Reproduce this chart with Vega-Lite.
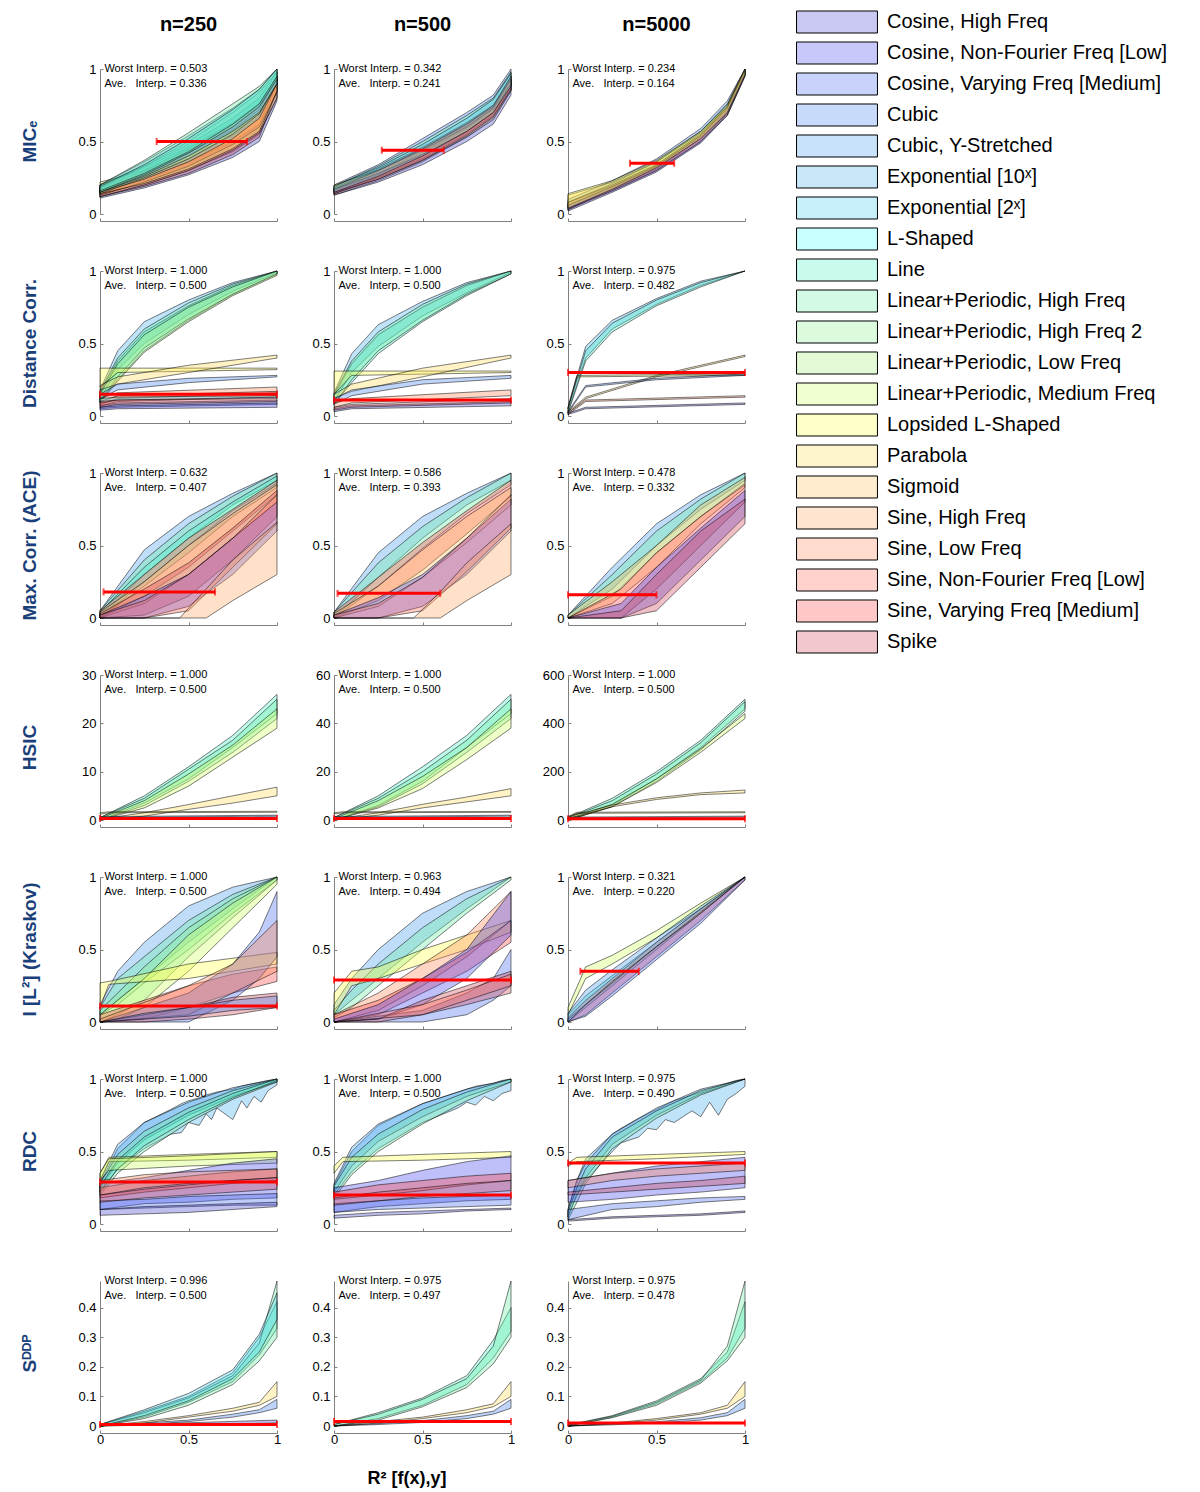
{
"$schema":"https://vega.github.io/schema/vega-lite/v6.json",
"padding":{"left":20,"top":12,"right":5,"bottom":0},
"datasets":{"fns":[{"f":0,"name":"Cosine, High Freq"},{"f":1,"name":"Cosine, Non-Fourier Freq [Low]"},{"f":2,"name":"Cosine, Varying Freq [Medium]"},{"f":3,"name":"Cubic"},{"f":4,"name":"Cubic, Y-Stretched"},{"f":5,"name":"Exponential [10ˣ]"},{"f":6,"name":"Exponential [2ˣ]"},{"f":7,"name":"L-Shaped"},{"f":8,"name":"Line"},{"f":9,"name":"Linear+Periodic, High Freq"},{"f":10,"name":"Linear+Periodic, High Freq 2"},{"f":11,"name":"Linear+Periodic, Low Freq"},{"f":12,"name":"Linear+Periodic, Medium Freq"},{"f":13,"name":"Lopsided L-Shaped"},{"f":14,"name":"Parabola"},{"f":15,"name":"Sigmoid"},{"f":16,"name":"Sine, High Freq"},{"f":17,"name":"Sine, Low Freq"},{"f":18,"name":"Sine, Non-Fourier Freq [Low]"},{"f":19,"name":"Sine, Varying Freq [Medium]"},{"f":20,"name":"Spike"}]},
"data":{"values":[
{"m":0,"c":0,"f":17,"x":[0,0.25,0.5,0.75,0.9,1],"lo":[0.12,0.2,0.3,0.43,0.55,0.8],"hi":[0.17,0.28,0.4,0.56,0.7,0.9]},
{"m":0,"c":0,"f":0,"x":[0,0.25,0.5,0.75,0.9,1],"lo":[0.11,0.18,0.27,0.39,0.5,0.78],"hi":[0.16,0.25,0.36,0.5,0.62,0.9]},
{"m":0,"c":0,"f":20,"x":[0,0.25,0.5,0.75,0.9,1],"lo":[0.12,0.19,0.28,0.41,0.53,0.85],"hi":[0.16,0.26,0.38,0.54,0.67,0.95]},
{"m":0,"c":0,"f":15,"x":[0,0.25,0.5,0.75,0.9,1],"lo":[0.12,0.2,0.3,0.44,0.56,0.8],"hi":[0.2,0.32,0.46,0.63,0.76,0.95]},
{"m":0,"c":0,"f":19,"x":[0,0.25,0.5,0.75,0.9,1],"lo":[0.13,0.22,0.33,0.48,0.6,0.84],"hi":[0.18,0.3,0.45,0.62,0.75,0.93]},
{"m":0,"c":0,"f":14,"x":[0,0.25,0.5,0.75,0.9,1],"lo":[0.14,0.21,0.31,0.45,0.57,0.85],"hi":[0.22,0.3,0.42,0.58,0.72,0.95]},
{"m":0,"c":0,"f":6,"x":[0,0.25,0.5,0.75,0.9,1],"lo":[0.15,0.24,0.36,0.52,0.66,0.9],"hi":[0.2,0.33,0.48,0.66,0.8,0.98]},
{"m":0,"c":0,"f":10,"x":[0,0.25,0.5,0.75,0.9,1],"lo":[0.14,0.25,0.38,0.55,0.69,0.9],"hi":[0.18,0.33,0.5,0.7,0.84,0.98]},
{"m":0,"c":0,"f":4,"x":[0,0.25,0.5,0.75,0.9,1],"lo":[0.15,0.26,0.4,0.57,0.7,0.9],"hi":[0.2,0.36,0.54,0.73,0.86,1]},
{"m":0,"c":0,"f":9,"x":[0,0.25,0.5,0.75,0.9,1],"lo":[0.15,0.27,0.42,0.6,0.74,0.93],"hi":[0.2,0.37,0.56,0.76,0.88,1]},
{"m":0,"c":0,"f":8,"x":[0,0.25,0.5,0.75,0.9,1],"lo":[0.16,0.28,0.43,0.62,0.76,0.95],"hi":[0.19,0.34,0.52,0.72,0.86,1]},
{"m":0,"c":0,"a":0.32,"b":0.83,"y":0.5},
{"m":0,"c":0,"t":"Worst Interp. = 0.503\nAve.\u00a0\u00a0\u00a0Interp. = 0.336","top":1},
{"m":0,"c":1,"f":3,"x":[0,0.25,0.5,0.75,0.9,1],"lo":[0.16,0.28,0.43,0.6,0.72,0.88],"hi":[0.2,0.34,0.52,0.7,0.82,1]},
{"m":0,"c":1,"f":9,"x":[0,0.25,0.5,0.75,0.9,1],"lo":[0.15,0.27,0.42,0.59,0.72,0.9],"hi":[0.19,0.33,0.5,0.68,0.8,0.98]},
{"m":0,"c":1,"f":15,"x":[0,0.25,0.5,0.75,0.9,1],"lo":[0.13,0.23,0.36,0.53,0.66,0.85],"hi":[0.18,0.3,0.45,0.62,0.75,0.95]},
{"m":0,"c":1,"f":19,"x":[0,0.25,0.5,0.75,0.9,1],"lo":[0.14,0.25,0.38,0.55,0.68,0.86],"hi":[0.18,0.31,0.46,0.63,0.75,0.93]},
{"m":0,"c":1,"f":14,"x":[0,0.25,0.5,0.75,0.9,1],"lo":[0.15,0.24,0.37,0.53,0.65,0.85],"hi":[0.2,0.3,0.44,0.6,0.73,0.93]},
{"m":0,"c":1,"f":0,"x":[0,0.25,0.5,0.75,0.9,1],"lo":[0.13,0.22,0.34,0.5,0.62,0.82],"hi":[0.17,0.28,0.41,0.57,0.7,0.9]},
{"m":0,"c":1,"f":20,"x":[0,0.25,0.5,0.75,0.9,1],"lo":[0.14,0.24,0.37,0.54,0.67,0.86],"hi":[0.17,0.3,0.45,0.62,0.74,0.95]},
{"m":0,"c":1,"f":6,"x":[0,0.25,0.5,0.75,0.9,1],"lo":[0.15,0.26,0.4,0.57,0.7,0.88],"hi":[0.19,0.32,0.48,0.66,0.79,0.97]},
{"m":0,"c":1,"a":0.27,"b":0.62,"y":0.44},
{"m":0,"c":1,"t":"Worst Interp. = 0.342\nAve.\u00a0\u00a0\u00a0Interp. = 0.241","top":1},
{"m":0,"c":2,"f":3,"x":[0,0.25,0.5,0.75,0.9,1],"lo":[0.03,0.18,0.33,0.53,0.72,0.97],"hi":[0.1,0.23,0.38,0.59,0.78,1]},
{"m":0,"c":2,"f":9,"x":[0,0.25,0.5,0.75,0.9,1],"lo":[0.03,0.17,0.31,0.52,0.7,0.96],"hi":[0.08,0.21,0.36,0.57,0.76,1]},
{"m":0,"c":2,"f":15,"x":[0,0.25,0.5,0.75,0.9,1],"lo":[0.04,0.16,0.3,0.5,0.68,0.95],"hi":[0.13,0.22,0.36,0.56,0.74,0.99]},
{"m":0,"c":2,"f":19,"x":[0,0.25,0.5,0.75,0.9,1],"lo":[0.03,0.16,0.3,0.5,0.69,0.96],"hi":[0.08,0.2,0.34,0.55,0.74,1]},
{"m":0,"c":2,"f":0,"x":[0,0.25,0.5,0.75,0.9,1],"lo":[0.02,0.15,0.29,0.49,0.68,0.95],"hi":[0.06,0.19,0.33,0.54,0.73,0.99]},
{"m":0,"c":2,"f":13,"x":[0,0.25,0.5,0.75,0.9,1],"lo":[0.04,0.17,0.32,0.52,0.7,0.96],"hi":[0.14,0.23,0.37,0.57,0.75,1]},
{"m":0,"c":2,"a":0.35,"b":0.6,"y":0.35},
{"m":0,"c":2,"t":"Worst Interp. = 0.234\nAve.\u00a0\u00a0\u00a0Interp. = 0.164","top":1},
{"m":1,"c":0,"f":5,"x":[0,0.1,0.25,0.5,0.75,1],"lo":[0.12,0.32,0.5,0.7,0.86,0.99],"hi":[0.18,0.45,0.65,0.8,0.92,1]},
{"m":1,"c":0,"f":8,"x":[0,0.1,0.25,0.5,0.75,1],"lo":[0.1,0.25,0.45,0.66,0.84,0.98],"hi":[0.16,0.38,0.58,0.76,0.9,1]},
{"m":1,"c":0,"f":9,"x":[0,0.1,0.25,0.5,0.75,1],"lo":[0.1,0.27,0.47,0.67,0.84,0.98],"hi":[0.17,0.4,0.6,0.78,0.91,1]},
{"m":1,"c":0,"f":11,"x":[0,0.1,0.25,0.5,0.75,1],"lo":[0.09,0.24,0.44,0.65,0.83,0.97],"hi":[0.15,0.36,0.56,0.75,0.89,1]},
{"m":1,"c":0,"f":13,"x":[0,0.1,1],"lo":[0.2,0.3,0.32],"hi":[0.33,0.33,0.33]},
{"m":1,"c":0,"f":14,"x":[0,0.1,0.5,1],"lo":[0.18,0.22,0.3,0.4],"hi":[0.21,0.27,0.35,0.42]},
{"m":1,"c":0,"f":3,"x":[0,0.1,0.5,1],"lo":[0.12,0.18,0.23,0.27],"hi":[0.15,0.22,0.26,0.28]},
{"m":1,"c":0,"f":17,"x":[0,0.1,1],"lo":[0.08,0.12,0.16],"hi":[0.12,0.16,0.2]},
{"m":1,"c":0,"f":19,"x":[0,0.1,1],"lo":[0.07,0.1,0.13],"hi":[0.1,0.14,0.17]},
{"m":1,"c":0,"f":7,"x":[0,0.1,1],"lo":[0.1,0.11,0.12],"hi":[0.12,0.13,0.14]},
{"m":1,"c":0,"f":0,"x":[0,0.1,1],"lo":[0.05,0.06,0.08],"hi":[0.07,0.09,0.11]},
{"m":1,"c":0,"f":20,"x":[0,0.1,1],"lo":[0.06,0.08,0.1],"hi":[0.09,0.11,0.13]},
{"m":1,"c":0,"f":1,"x":[0,0.1,1],"lo":[0.04,0.05,0.06],"hi":[0.06,0.07,0.09]},
{"m":1,"c":0,"a":0,"b":1,"y":0.15},
{"m":1,"c":0,"t":"Worst Interp. = 1.000\nAve.\u00a0\u00a0\u00a0Interp. = 0.500","top":1},
{"m":1,"c":1,"f":5,"x":[0,0.1,0.25,0.5,0.75,1],"lo":[0.1,0.3,0.48,0.69,0.85,0.99],"hi":[0.16,0.43,0.63,0.79,0.92,1]},
{"m":1,"c":1,"f":8,"x":[0,0.1,0.25,0.5,0.75,1],"lo":[0.08,0.23,0.43,0.65,0.83,0.98],"hi":[0.14,0.36,0.56,0.75,0.9,1]},
{"m":1,"c":1,"f":9,"x":[0,0.1,0.25,0.5,0.75,1],"lo":[0.08,0.25,0.45,0.66,0.84,0.98],"hi":[0.15,0.38,0.58,0.77,0.91,1]},
{"m":1,"c":1,"f":13,"x":[0,0.1,1],"lo":[0.15,0.28,0.3],"hi":[0.31,0.31,0.31]},
{"m":1,"c":1,"f":14,"x":[0,0.1,0.5,1],"lo":[0.12,0.17,0.27,0.4],"hi":[0.15,0.22,0.33,0.42]},
{"m":1,"c":1,"f":3,"x":[0,0.1,0.5,1],"lo":[0.08,0.14,0.22,0.26],"hi":[0.12,0.18,0.25,0.28]},
{"m":1,"c":1,"f":17,"x":[0,0.1,1],"lo":[0.06,0.09,0.14],"hi":[0.09,0.12,0.18]},
{"m":1,"c":1,"f":0,"x":[0,0.1,1],"lo":[0.03,0.05,0.07],"hi":[0.05,0.07,0.1]},
{"m":1,"c":1,"f":20,"x":[0,0.1,1],"lo":[0.04,0.06,0.09],"hi":[0.06,0.08,0.12]},
{"m":1,"c":1,"a":0,"b":1,"y":0.11},
{"m":1,"c":1,"t":"Worst Interp. = 1.000\nAve.\u00a0\u00a0\u00a0Interp. = 0.500","top":1},
{"m":1,"c":2,"f":5,"x":[0,0.1,0.25,0.5,0.75,1],"lo":[0.03,0.4,0.6,0.77,0.9,1],"hi":[0.06,0.48,0.66,0.81,0.93,1]},
{"m":1,"c":2,"f":8,"x":[0,0.1,0.25,0.5,0.75,1],"lo":[0.02,0.38,0.58,0.76,0.89,1],"hi":[0.05,0.45,0.64,0.8,0.92,1]},
{"m":1,"c":2,"f":14,"x":[0,0.1,0.5,1],"lo":[0.02,0.12,0.27,0.41],"hi":[0.03,0.13,0.28,0.42]},
{"m":1,"c":2,"f":13,"x":[0,0.05,1],"lo":[0.05,0.27,0.28],"hi":[0.06,0.28,0.29]},
{"m":1,"c":2,"f":3,"x":[0,0.1,0.5,1],"lo":[0.02,0.2,0.25,0.28],"hi":[0.03,0.21,0.26,0.29]},
{"m":1,"c":2,"f":17,"x":[0,0.1,1],"lo":[0.01,0.1,0.13],"hi":[0.02,0.11,0.14]},
{"m":1,"c":2,"f":0,"x":[0,0.1,1],"lo":[0.01,0.05,0.08],"hi":[0.02,0.06,0.09]},
{"m":1,"c":2,"a":0,"b":1,"y":0.3},
{"m":1,"c":2,"t":"Worst Interp. = 0.975\nAve.\u00a0\u00a0\u00a0Interp. = 0.482","top":1},
{"m":2,"c":0,"f":4,"x":[0,0.25,0.5,0.75,1],"lo":[0,0.3,0.55,0.78,0.95],"hi":[0.05,0.47,0.7,0.86,1]},
{"m":2,"c":0,"f":9,"x":[0,0.25,0.5,0.75,1],"lo":[0,0.25,0.5,0.74,0.93],"hi":[0.05,0.4,0.65,0.84,1]},
{"m":2,"c":0,"f":8,"x":[0,0.25,0.5,0.75,1],"lo":[0,0.22,0.45,0.7,0.9],"hi":[0.04,0.35,0.6,0.8,0.98]},
{"m":2,"c":0,"f":19,"x":[0,0.25,0.5,0.75,1],"lo":[0,0.15,0.35,0.6,0.85],"hi":[0.05,0.3,0.55,0.75,0.95]},
{"m":2,"c":0,"f":15,"x":[0,0.25,0.5,0.75,1],"lo":[0,0.1,0.3,0.55,0.8],"hi":[0.04,0.25,0.5,0.72,0.92]},
{"m":2,"c":0,"f":20,"x":[0,0.25,0.5,0.75,1],"lo":[0,0.02,0.15,0.4,0.7],"hi":[0.03,0.2,0.38,0.62,0.88]},
{"m":2,"c":0,"f":1,"x":[0,0.25,0.5,0.75,1],"lo":[0,0,0.08,0.3,0.6],"hi":[0.02,0.15,0.3,0.55,0.8]},
{"m":2,"c":0,"f":18,"x":[0,0.25,0.5,0.75,1],"lo":[0,0,0.05,0.35,0.65],"hi":[0.02,0.12,0.3,0.55,0.85]},
{"m":2,"c":0,"f":16,"x":[0,0.45,0.6,0.75,1],"lo":[0,0,0,0.12,0.3],"hi":[0,0,0.2,0.4,0.66]},
{"m":2,"c":0,"a":0.02,"b":0.65,"y":0.18},
{"m":2,"c":0,"t":"Worst Interp. = 0.632\nAve.\u00a0\u00a0\u00a0Interp. = 0.407","top":1},
{"m":2,"c":1,"f":4,"x":[0,0.25,0.5,0.75,1],"lo":[0,0.28,0.55,0.78,0.95],"hi":[0.04,0.45,0.7,0.86,1]},
{"m":2,"c":1,"f":9,"x":[0,0.25,0.5,0.75,1],"lo":[0,0.22,0.48,0.72,0.92],"hi":[0.04,0.38,0.63,0.83,1]},
{"m":2,"c":1,"f":19,"x":[0,0.25,0.5,0.75,1],"lo":[0,0.12,0.33,0.58,0.84],"hi":[0.04,0.28,0.52,0.74,0.95]},
{"m":2,"c":1,"f":15,"x":[0,0.25,0.5,0.75,1],"lo":[0,0.08,0.28,0.52,0.78],"hi":[0.03,0.22,0.47,0.7,0.9]},
{"m":2,"c":1,"f":1,"x":[0,0.25,0.5,0.75,1],"lo":[0,0,0.08,0.3,0.6],"hi":[0.02,0.14,0.3,0.55,0.82]},
{"m":2,"c":1,"f":18,"x":[0,0.25,0.5,0.75,1],"lo":[0,0,0.05,0.32,0.62],"hi":[0.02,0.1,0.28,0.55,0.85]},
{"m":2,"c":1,"f":16,"x":[0,0.45,0.6,0.75,1],"lo":[0,0,0,0.12,0.3],"hi":[0,0,0.18,0.38,0.65]},
{"m":2,"c":1,"a":0.02,"b":0.6,"y":0.17},
{"m":2,"c":1,"t":"Worst Interp. = 0.586\nAve.\u00a0\u00a0\u00a0Interp. = 0.393","top":1},
{"m":2,"c":2,"f":4,"x":[0,0.25,0.5,0.75,1],"lo":[0,0.2,0.5,0.75,0.95],"hi":[0.02,0.35,0.65,0.85,1]},
{"m":2,"c":2,"f":9,"x":[0,0.25,0.5,0.75,1],"lo":[0,0.15,0.45,0.7,0.93],"hi":[0.02,0.3,0.6,0.82,1]},
{"m":2,"c":2,"f":15,"x":[0,0.25,0.5,0.75,1],"lo":[0,0.1,0.35,0.65,0.9],"hi":[0.02,0.25,0.5,0.78,0.97]},
{"m":2,"c":2,"f":19,"x":[0,0.3,0.5,0.75,1],"lo":[0,0,0.2,0.5,0.8],"hi":[0,0.2,0.45,0.7,0.92]},
{"m":2,"c":2,"f":1,"x":[0,0.3,0.5,0.75,1],"lo":[0,0,0.1,0.4,0.7],"hi":[0,0.1,0.35,0.62,0.88]},
{"m":2,"c":2,"f":20,"x":[0,0.3,0.5,0.75,1],"lo":[0,0,0.05,0.35,0.65],"hi":[0,0.05,0.3,0.6,0.82]},
{"m":2,"c":2,"a":0,"b":0.5,"y":0.16},
{"m":2,"c":2,"t":"Worst Interp. = 0.478\nAve.\u00a0\u00a0\u00a0Interp. = 0.332","top":1},
{"m":3,"c":0,"f":8,"x":[0,0.25,0.5,0.75,1],"lo":[0,3.5,8.5,15,22],"hi":[0.5,5,11,17.5,26]},
{"m":3,"c":0,"f":9,"x":[0,0.25,0.5,0.75,1],"lo":[0,3,8,14,21],"hi":[0.5,4.5,10.5,16.5,25]},
{"m":3,"c":0,"f":12,"x":[0,0.25,0.5,0.75,1],"lo":[0,2.5,7,13,19],"hi":[0.3,4,9.5,15.5,23]},
{"m":3,"c":0,"f":14,"x":[0,0.25,0.5,0.75,1],"lo":[0,0.8,2.2,3.5,5],"hi":[0.2,1.5,3.2,5,6.8]},
{"m":3,"c":0,"f":13,"x":[0,0.05,1],"lo":[1.2,1.5,1.6],"hi":[1.5,1.7,1.8]},
{"m":3,"c":0,"f":3,"x":[0,1],"lo":[0.5,0.8],"hi":[0.7,1]},
{"m":3,"c":0,"f":0,"x":[0,1],"lo":[0.1,0.2],"hi":[0.3,0.4]},
{"m":3,"c":0,"a":0,"b":1,"y":0.3},
{"m":3,"c":0,"t":"Worst Interp. = 1.000\nAve.\u00a0\u00a0\u00a0Interp. = 0.500","top":30},
{"m":3,"c":1,"f":8,"x":[0,0.25,0.5,0.75,1],"lo":[0,6,16,30,44],"hi":[1,10,22,35,52]},
{"m":3,"c":1,"f":9,"x":[0,0.25,0.5,0.75,1],"lo":[0,5.5,15,28,42],"hi":[1,9,20,33,50]},
{"m":3,"c":1,"f":12,"x":[0,0.25,0.5,0.75,1],"lo":[0,5,13,25,38],"hi":[0.5,8,18,30,46]},
{"m":3,"c":1,"f":14,"x":[0,0.25,0.5,0.75,1],"lo":[0,2,5,7.5,10],"hi":[0.3,3,6.5,9.5,13]},
{"m":3,"c":1,"f":13,"x":[0,0.05,1],"lo":[2.5,3,3.2],"hi":[3,3.4,3.5]},
{"m":3,"c":1,"f":3,"x":[0,1],"lo":[1,1.6],"hi":[1.4,2]},
{"m":3,"c":1,"a":0,"b":1,"y":0.6},
{"m":3,"c":1,"t":"Worst Interp. = 1.000\nAve.\u00a0\u00a0\u00a0Interp. = 0.500","top":60},
{"m":3,"c":2,"f":8,"x":[0,0.25,0.5,0.75,1],"lo":[0,60,170,300,460],"hi":[10,90,200,330,500]},
{"m":3,"c":2,"f":9,"x":[0,0.25,0.5,0.75,1],"lo":[0,55,160,290,450],"hi":[8,80,190,320,490]},
{"m":3,"c":2,"f":12,"x":[0,0.25,0.5,0.75,1],"lo":[0,55,155,280,420],"hi":[5,65,170,295,440]},
{"m":3,"c":2,"f":14,"x":[0,0.1,0.25,0.5,0.75,1],"lo":[5,25,55,85,105,112],"hi":[15,32,62,92,112,124]},
{"m":3,"c":2,"f":13,"x":[0,0.05,1],"lo":[10,28,30],"hi":[14,32,34]},
{"m":3,"c":2,"f":3,"x":[0,1],"lo":[8,12],"hi":[12,16]},
{"m":3,"c":2,"a":0,"b":1,"y":5},
{"m":3,"c":2,"t":"Worst Interp. = 1.000\nAve.\u00a0\u00a0\u00a0Interp. = 0.500","top":600},
{"m":4,"c":0,"f":4,"x":[0,0.1,0.25,0.5,0.75,1],"lo":[0.05,0.15,0.3,0.55,0.78,1],"hi":[0.12,0.35,0.55,0.8,0.93,1]},
{"m":4,"c":0,"f":9,"x":[0,0.1,0.25,0.5,0.75,1],"lo":[0.05,0.12,0.27,0.5,0.75,0.98],"hi":[0.1,0.3,0.45,0.7,0.88,1]},
{"m":4,"c":0,"f":10,"x":[0,0.1,0.25,0.5,0.75,1],"lo":[0,0.05,0.15,0.45,0.72,0.98],"hi":[0.08,0.2,0.38,0.65,0.85,1]},
{"m":4,"c":0,"f":12,"x":[0,0.1,0.25,0.5,0.75,1],"lo":[0,0.02,0.1,0.35,0.65,0.95],"hi":[0.05,0.15,0.3,0.6,0.82,1]},
{"m":4,"c":0,"f":13,"x":[0,0.05,0.5,1],"lo":[0.1,0.26,0.3,0.4],"hi":[0.27,0.28,0.4,0.48]},
{"m":4,"c":0,"f":19,"x":[0,0.25,0.5,0.75,1],"lo":[0,0.02,0.1,0.2,0.28],"hi":[0.05,0.15,0.25,0.33,0.38]},
{"m":4,"c":0,"f":2,"x":[0,0.5,0.75,0.9,1],"lo":[0,0,0.15,0.3,0.45],"hi":[0,0.2,0.4,0.62,0.9]},
{"m":4,"c":0,"f":17,"x":[0,0.5,0.75,1],"lo":[0,0.05,0.2,0.35],"hi":[0.02,0.25,0.4,0.7]},
{"m":4,"c":0,"f":20,"x":[0,0.25,0.5,0.75,1],"lo":[0,0,0.02,0.05,0.1],"hi":[0,0.05,0.1,0.17,0.2]},
{"m":4,"c":0,"f":3,"x":[0,0.25,0.5,0.75,1],"lo":[0,0.02,0.04,0.08,0.1],"hi":[0,0.06,0.1,0.15,0.18]},
{"m":4,"c":0,"a":0,"b":1,"y":0.11},
{"m":4,"c":0,"t":"Worst Interp. = 1.000\nAve.\u00a0\u00a0\u00a0Interp. = 0.500","top":1},
{"m":4,"c":1,"f":4,"x":[0,0.1,0.25,0.5,0.75,1],"lo":[0.05,0.15,0.3,0.55,0.78,1],"hi":[0.12,0.3,0.5,0.75,0.9,1]},
{"m":4,"c":1,"f":9,"x":[0,0.1,0.25,0.5,0.75,1],"lo":[0.03,0.1,0.25,0.5,0.75,0.98],"hi":[0.08,0.22,0.4,0.65,0.85,1]},
{"m":4,"c":1,"f":13,"x":[0,0.1,0.25,0.5,0.75,1],"lo":[0.05,0.25,0.3,0.4,0.5,0.62],"hi":[0.2,0.35,0.38,0.5,0.6,0.7]},
{"m":4,"c":1,"f":17,"x":[0,0.25,0.5,0.75,1],"lo":[0,0.08,0.25,0.45,0.7],"hi":[0.05,0.2,0.4,0.6,0.9]},
{"m":4,"c":1,"f":19,"x":[0,0.25,0.5,0.75,1],"lo":[0,0.05,0.2,0.35,0.55],"hi":[0.05,0.15,0.3,0.48,0.7]},
{"m":4,"c":1,"f":1,"x":[0,0.25,0.5,0.75,1],"lo":[0,0.02,0.12,0.3,0.6],"hi":[0.02,0.12,0.3,0.5,0.9]},
{"m":4,"c":1,"f":2,"x":[0,0.5,0.75,0.9,1],"lo":[0,0,0.05,0.15,0.25],"hi":[0,0.08,0.2,0.3,0.5]},
{"m":4,"c":1,"f":20,"x":[0,0.25,0.5,0.75,1],"lo":[0,0,0.05,0.12,0.2],"hi":[0,0.02,0.15,0.25,0.35]},
{"m":4,"c":1,"f":18,"x":[0,0.5,0.75,1],"lo":[0,0.05,0.15,0.25],"hi":[0,0.12,0.22,0.33]},
{"m":4,"c":1,"a":0,"b":1,"y":0.29},
{"m":4,"c":1,"t":"Worst Interp. = 0.963\nAve.\u00a0\u00a0\u00a0Interp. = 0.494","top":1},
{"m":4,"c":2,"f":12,"x":[0,0.1,0.25,0.5,0.75,1],"lo":[0.05,0.3,0.4,0.58,0.78,1],"hi":[0.1,0.38,0.46,0.63,0.82,1]},
{"m":4,"c":2,"f":8,"x":[0,0.1,0.25,0.5,0.75,1],"lo":[0,0.1,0.25,0.5,0.75,1],"hi":[0.05,0.18,0.32,0.55,0.78,1]},
{"m":4,"c":2,"f":19,"x":[0,0.1,0.25,0.5,0.75,1],"lo":[0,0.05,0.2,0.45,0.7,0.98],"hi":[0.03,0.15,0.3,0.55,0.78,1]},
{"m":4,"c":2,"f":2,"x":[0,0.1,0.25,0.5,0.75,1],"lo":[0,0.04,0.18,0.43,0.68,0.98],"hi":[0.02,0.12,0.27,0.52,0.75,1]},
{"m":4,"c":2,"f":4,"x":[0,0.1,0.25,0.5,0.75,1],"lo":[0,0.12,0.28,0.52,0.76,1],"hi":[0.06,0.22,0.36,0.58,0.8,1]},
{"m":4,"c":2,"a":0.07,"b":0.4,"y":0.35},
{"m":4,"c":2,"t":"Worst Interp. = 0.321\nAve.\u00a0\u00a0\u00a0Interp. = 0.220","top":1},
{"m":5,"c":0,"f":5,"x":[0,0.1,0.25,0.4,0.46,0.5,0.56,0.6,0.63,0.66,0.75,0.8,0.83,0.87,0.91,0.95,1],"lo":[0.22,0.38,0.52,0.62,0.63,0.7,0.68,0.76,0.72,0.8,0.72,0.85,0.8,0.88,0.84,0.92,0.96],"hi":[0.28,0.52,0.7,0.79,0.83,0.85,0.87,0.89,0.9,0.91,0.93,0.95,0.96,0.97,0.98,0.99,1]},
{"m":5,"c":0,"f":4,"x":[0,0.1,0.25,0.5,0.75,1],"lo":[0.25,0.42,0.58,0.75,0.88,0.98],"hi":[0.3,0.55,0.7,0.84,0.94,1]},
{"m":5,"c":0,"f":9,"x":[0,0.1,0.25,0.5,0.75,1],"lo":[0.2,0.35,0.5,0.7,0.86,0.98],"hi":[0.28,0.48,0.64,0.8,0.92,1]},
{"m":5,"c":0,"f":8,"x":[0,0.1,0.25,0.5,0.75,1],"lo":[0.22,0.38,0.54,0.72,0.87,0.99],"hi":[0.26,0.44,0.6,0.77,0.9,1]},
{"m":5,"c":0,"f":13,"x":[0,0.05,0.5,1],"lo":[0.3,0.43,0.44,0.46],"hi":[0.35,0.46,0.48,0.5]},
{"m":5,"c":0,"f":12,"x":[0,0.05,0.5,1],"lo":[0.3,0.37,0.4,0.42],"hi":[0.35,0.45,0.47,0.5]},
{"m":5,"c":0,"f":1,"x":[0,0.25,0.5,0.75,1],"lo":[0.1,0.14,0.15,0.17,0.18],"hi":[0.28,0.32,0.37,0.42,0.45]},
{"m":5,"c":0,"f":19,"x":[0,0.25,0.5,0.75,1],"lo":[0.18,0.22,0.25,0.28,0.3],"hi":[0.25,0.3,0.33,0.36,0.38]},
{"m":5,"c":0,"f":17,"x":[0,0.25,0.5,0.75,1],"lo":[0.2,0.25,0.28,0.3,0.32],"hi":[0.3,0.34,0.36,0.37,0.38]},
{"m":5,"c":0,"f":2,"x":[0,0.25,0.5,0.75,1],"lo":[0.1,0.11,0.12,0.13,0.13],"hi":[0.16,0.17,0.19,0.2,0.21]},
{"m":5,"c":0,"f":20,"x":[0,0.25,0.5,0.75,1],"lo":[0.15,0.18,0.2,0.22,0.24],"hi":[0.2,0.24,0.27,0.3,0.32]},
{"m":5,"c":0,"f":0,"x":[0,0.25,0.5,0.75,1],"lo":[0.06,0.07,0.08,0.1,0.12],"hi":[0.1,0.12,0.13,0.14,0.15]},
{"m":5,"c":0,"a":0,"b":1,"y":0.29},
{"m":5,"c":0,"t":"Worst Interp. = 1.000\nAve.\u00a0\u00a0\u00a0Interp. = 0.500","top":1},
{"m":5,"c":1,"f":5,"x":[0,0.1,0.25,0.5,0.7,0.75,0.8,0.85,0.9,0.95,1],"lo":[0.2,0.36,0.52,0.7,0.8,0.84,0.82,0.88,0.85,0.9,0.92],"hi":[0.27,0.5,0.68,0.83,0.91,0.93,0.95,0.96,0.97,0.99,1]},
{"m":5,"c":1,"f":4,"x":[0,0.1,0.25,0.5,0.75,1],"lo":[0.22,0.4,0.57,0.74,0.88,0.98],"hi":[0.28,0.53,0.69,0.83,0.93,1]},
{"m":5,"c":1,"f":9,"x":[0,0.1,0.25,0.5,0.75,1],"lo":[0.18,0.34,0.5,0.69,0.85,0.98],"hi":[0.26,0.46,0.62,0.79,0.91,1]},
{"m":5,"c":1,"f":13,"x":[0,0.05,0.5,1],"lo":[0.35,0.43,0.44,0.46],"hi":[0.4,0.46,0.48,0.5]},
{"m":5,"c":1,"f":1,"x":[0,0.25,0.5,0.75,1],"lo":[0.08,0.12,0.14,0.16,0.17],"hi":[0.25,0.3,0.37,0.43,0.47]},
{"m":5,"c":1,"f":19,"x":[0,0.25,0.5,0.75,1],"lo":[0.17,0.2,0.23,0.27,0.3],"hi":[0.22,0.27,0.3,0.33,0.35]},
{"m":5,"c":1,"f":2,"x":[0,0.25,0.5,0.75,1],"lo":[0.08,0.1,0.11,0.12,0.13],"hi":[0.14,0.16,0.18,0.19,0.2]},
{"m":5,"c":1,"f":20,"x":[0,0.25,0.5,0.75,1],"lo":[0.13,0.16,0.19,0.21,0.23],"hi":[0.18,0.22,0.25,0.28,0.3]},
{"m":5,"c":1,"f":0,"x":[0,0.25,0.5,0.75,1],"lo":[0.04,0.06,0.07,0.09,0.1],"hi":[0.06,0.08,0.09,0.1,0.11]},
{"m":5,"c":1,"a":0,"b":1,"y":0.2},
{"m":5,"c":1,"t":"Worst Interp. = 1.000\nAve.\u00a0\u00a0\u00a0Interp. = 0.500","top":1},
{"m":5,"c":2,"f":5,"x":[0,0.05,0.1,0.25,0.3,0.4,0.45,0.5,0.55,0.6,0.7,0.75,0.8,0.85,0.9,0.95,1],"lo":[0.05,0.2,0.3,0.5,0.56,0.6,0.66,0.65,0.72,0.7,0.78,0.74,0.84,0.75,0.86,0.9,0.95],"hi":[0.1,0.3,0.45,0.62,0.66,0.73,0.76,0.79,0.82,0.85,0.89,0.91,0.93,0.95,0.97,0.99,1]},
{"m":5,"c":2,"f":4,"x":[0,0.05,0.1,0.25,0.5,0.75,1],"lo":[0.05,0.2,0.32,0.55,0.75,0.9,1],"hi":[0.1,0.3,0.42,0.62,0.8,0.93,1]},
{"m":5,"c":2,"f":9,"x":[0,0.05,0.1,0.25,0.5,0.75,1],"lo":[0.03,0.15,0.28,0.52,0.73,0.89,1],"hi":[0.08,0.25,0.38,0.6,0.78,0.92,1]},
{"m":5,"c":2,"f":13,"x":[0,0.05,0.5,1],"lo":[0.4,0.43,0.45,0.48],"hi":[0.42,0.46,0.48,0.5]},
{"m":5,"c":2,"f":1,"x":[0,0.25,0.5,0.75,1],"lo":[0.15,0.17,0.2,0.22,0.25],"hi":[0.3,0.35,0.4,0.43,0.46]},
{"m":5,"c":2,"f":17,"x":[0,0.25,0.5,0.75,1],"lo":[0.25,0.3,0.33,0.35,0.37],"hi":[0.3,0.35,0.38,0.4,0.42]},
{"m":5,"c":2,"f":2,"x":[0,0.25,0.5,0.75,1],"lo":[0.03,0.1,0.12,0.15,0.17],"hi":[0.1,0.14,0.16,0.18,0.19]},
{"m":5,"c":2,"f":20,"x":[0,0.25,0.5,0.75,1],"lo":[0.2,0.22,0.24,0.26,0.28],"hi":[0.22,0.25,0.28,0.3,0.33]},
{"m":5,"c":2,"f":0,"x":[0,0.25,0.5,0.75,1],"lo":[0.02,0.04,0.05,0.06,0.08],"hi":[0.03,0.05,0.06,0.07,0.09]},
{"m":5,"c":2,"a":0,"b":1,"y":0.42},
{"m":5,"c":2,"t":"Worst Interp. = 0.975\nAve.\u00a0\u00a0\u00a0Interp. = 0.490","top":1},
{"m":6,"c":0,"f":8,"x":[0,0.25,0.5,0.75,0.9,1],"lo":[0,0.03,0.08,0.15,0.24,0.33],"hi":[0.005,0.05,0.1,0.18,0.3,0.42]},
{"m":6,"c":0,"f":9,"x":[0,0.25,0.5,0.75,0.9,1],"lo":[0,0.025,0.07,0.14,0.22,0.3],"hi":[0.005,0.045,0.095,0.17,0.28,0.49]},
{"m":6,"c":0,"f":6,"x":[0,0.25,0.5,0.75,0.9,1],"lo":[0,0.035,0.085,0.16,0.25,0.36],"hi":[0.005,0.055,0.11,0.19,0.31,0.45]},
{"m":6,"c":0,"f":14,"x":[0,0.25,0.5,0.75,0.9,1],"lo":[0,0.01,0.03,0.05,0.07,0.1],"hi":[0,0.015,0.035,0.06,0.08,0.15]},
{"m":6,"c":0,"f":3,"x":[0,0.25,0.5,0.75,0.9,1],"lo":[0,0.005,0.015,0.03,0.045,0.06],"hi":[0,0.01,0.02,0.04,0.055,0.09]},
{"m":6,"c":0,"f":0,"x":[0,1],"lo":[0,0.01],"hi":[0.002,0.02]},
{"m":6,"c":0,"a":0,"b":1,"y":0.005},
{"m":6,"c":0,"t":"Worst Interp. = 0.996\nAve.\u00a0\u00a0\u00a0Interp. = 0.500","top":0.49},
{"m":6,"c":1,"f":8,"x":[0,0.25,0.5,0.75,0.9,1],"lo":[0,0.025,0.07,0.14,0.23,0.32],"hi":[0.005,0.045,0.095,0.17,0.29,0.4]},
{"m":6,"c":1,"f":9,"x":[0,0.25,0.5,0.75,0.9,1],"lo":[0,0.02,0.065,0.13,0.21,0.3],"hi":[0.005,0.04,0.09,0.16,0.27,0.49]},
{"m":6,"c":1,"f":14,"x":[0,0.25,0.5,0.75,0.9,1],"lo":[0,0.01,0.025,0.045,0.065,0.1],"hi":[0,0.015,0.03,0.055,0.075,0.15]},
{"m":6,"c":1,"f":3,"x":[0,0.25,0.5,0.75,0.9,1],"lo":[0,0.005,0.012,0.025,0.04,0.06],"hi":[0,0.008,0.018,0.035,0.05,0.09]},
{"m":6,"c":1,"a":0,"b":1,"y":0.015},
{"m":6,"c":1,"t":"Worst Interp. = 0.975\nAve.\u00a0\u00a0\u00a0Interp. = 0.497","top":0.49},
{"m":6,"c":2,"f":8,"x":[0,0.25,0.5,0.75,0.9,1],"lo":[0,0.03,0.075,0.15,0.23,0.33],"hi":[0.003,0.035,0.085,0.16,0.25,0.42]},
{"m":6,"c":2,"f":9,"x":[0,0.25,0.5,0.75,0.9,1],"lo":[0,0.028,0.07,0.145,0.22,0.3],"hi":[0.003,0.033,0.08,0.155,0.27,0.49]},
{"m":6,"c":2,"f":14,"x":[0,0.25,0.5,0.75,0.9,1],"lo":[0,0.008,0.02,0.04,0.06,0.1],"hi":[0,0.01,0.025,0.045,0.07,0.15]},
{"m":6,"c":2,"f":3,"x":[0,0.25,0.5,0.75,0.9,1],"lo":[0,0.004,0.01,0.02,0.035,0.06],"hi":[0,0.006,0.014,0.028,0.045,0.09]},
{"m":6,"c":2,"a":0,"b":1,"y":0.01},
{"m":6,"c":2,"t":"Worst Interp. = 0.975\nAve.\u00a0\u00a0\u00a0Interp. = 0.478","top":0.49}
]},
"transform":[{"lookup":"f","from":{"data":{"name":"fns"},"key":"f","fields":["name"]}}],
"spacing":43,
"vconcat":[
{"transform":[{"filter":"datum.m==0"}],
 "facet":{"row":{"field":"m","type":"nominal","title":null,"header":{"labelExpr":"'MICₑ'"}},"column":{"field":"c","type":"nominal","title":null,"header":{"labelExpr":"['n=250','n=500','n=5000'][datum.value]"}}},
 "spacing":{"column":23},"resolve":{"scale":{"y":"independent"}},
 "spec":{"width":177,"height":145,"layer":[
  {"transform":[{"filter":"isArray(datum.lo)"},{"flatten":["x","lo","hi"]}],"mark":{"type":"area","stroke":"black","strokeWidth":0.6,"strokeOpacity":0.85,"fillOpacity":0.35},
   "encoding":{"x":{"field":"x","type":"quantitative","title":null,"scale":{"domain":[0,1],"nice":false},"axis":{"values":[0,0.5,1],"labels":false}},"y":{"field":"lo","type":"quantitative","title":null,"stack":null,"scale":{"nice":false},"axis":{"tickCount":2,"format":"~g"}},"y2":{"field":"hi"},
   "color":{"field":"name","type":"nominal","scale":{"domain":["Cosine, High Freq","Cosine, Non-Fourier Freq [Low]","Cosine, Varying Freq [Medium]","Cubic","Cubic, Y-Stretched","Exponential [10ˣ]","Exponential [2ˣ]","L-Shaped","Line","Linear+Periodic, High Freq","Linear+Periodic, High Freq 2","Linear+Periodic, Low Freq","Linear+Periodic, Medium Freq","Lopsided L-Shaped","Parabola","Sigmoid","Sine, High Freq","Sine, Low Freq","Sine, Non-Fourier Freq [Low]","Sine, Varying Freq [Medium]","Spike"]},"legend":{"title":null,"orient":"none","legendX":727,"legendY":-57,"symbolType":"M-5,-1.36H5V1.36H-5Z","symbolSize":262,"symbolOffset":0,"labelOffset":40,"labelFontSize":20,"labelColor":"black","labelLimit":500,"rowPadding":3,"symbolStrokeColor":"black","symbolStrokeWidth":1,"encode":{"symbols":{"update":{"fillOpacity":{"value":0.3},"stroke":{"value":"black"},"strokeOpacity":{"value":1},"strokeWidth":{"value":1}}}}}}}},
  {"transform":[{"filter":"isValid(datum.a)"}],"mark":{"type":"rule","color":"#ff0000","strokeWidth":3},"encoding":{"x":{"field":"a","type":"quantitative","title":null},"x2":{"field":"b"},"y":{"field":"y","type":"quantitative","title":null}}},
  {"transform":[{"filter":"isValid(datum.a)"}],"mark":{"type":"tick","color":"#ff0000","orient":"vertical","size":7,"thickness":2},"encoding":{"x":{"field":"a","type":"quantitative","title":null},"y":{"field":"y","type":"quantitative","title":null}}},
  {"transform":[{"filter":"isValid(datum.a)"}],"mark":{"type":"tick","color":"#ff0000","orient":"vertical","size":7,"thickness":2},"encoding":{"x":{"field":"b","type":"quantitative","title":null},"y":{"field":"y","type":"quantitative","title":null}}},
  {"transform":[{"filter":"isValid(datum.t)"}],"mark":{"type":"text","align":"left","baseline":"top","dy":-6,"fontSize":11,"lineBreak":"\n","lineHeight":15},"encoding":{"x":{"datum":0.025},"y":{"field":"top","type":"quantitative","title":null},"text":{"field":"t"}}}
 ]}},
{"transform":[{"filter":"datum.m==1"}],
 "facet":{"row":{"field":"m","type":"nominal","title":null,"header":{"labelExpr":"'Distance Corr.'"}},"column":{"field":"c","type":"nominal","title":null,"header":{"labels":false}}},
 "spacing":{"column":23},"resolve":{"scale":{"y":"independent"}},
 "spec":{"width":177,"height":145,"layer":[
  {"transform":[{"filter":"isArray(datum.lo)"},{"flatten":["x","lo","hi"]}],"mark":{"type":"area","stroke":"black","strokeWidth":0.6,"strokeOpacity":0.85,"fillOpacity":0.35},
   "encoding":{"x":{"field":"x","type":"quantitative","title":null,"scale":{"domain":[0,1],"nice":false},"axis":{"values":[0,0.5,1],"labels":false}},"y":{"field":"lo","type":"quantitative","title":null,"stack":null,"scale":{"nice":false},"axis":{"tickCount":2,"format":"~g"}},"y2":{"field":"hi"},"color":{"field":"name","type":"nominal","scale":{"domain":["Cosine, High Freq","Cosine, Non-Fourier Freq [Low]","Cosine, Varying Freq [Medium]","Cubic","Cubic, Y-Stretched","Exponential [10ˣ]","Exponential [2ˣ]","L-Shaped","Line","Linear+Periodic, High Freq","Linear+Periodic, High Freq 2","Linear+Periodic, Low Freq","Linear+Periodic, Medium Freq","Lopsided L-Shaped","Parabola","Sigmoid","Sine, High Freq","Sine, Low Freq","Sine, Non-Fourier Freq [Low]","Sine, Varying Freq [Medium]","Spike"]},"legend":null}}},
  {"transform":[{"filter":"isValid(datum.a)"}],"mark":{"type":"rule","color":"#ff0000","strokeWidth":3},"encoding":{"x":{"field":"a","type":"quantitative","title":null},"x2":{"field":"b"},"y":{"field":"y","type":"quantitative","title":null}}},
  {"transform":[{"filter":"isValid(datum.a)"}],"mark":{"type":"tick","color":"#ff0000","orient":"vertical","size":7,"thickness":2},"encoding":{"x":{"field":"a","type":"quantitative","title":null},"y":{"field":"y","type":"quantitative","title":null}}},
  {"transform":[{"filter":"isValid(datum.a)"}],"mark":{"type":"tick","color":"#ff0000","orient":"vertical","size":7,"thickness":2},"encoding":{"x":{"field":"b","type":"quantitative","title":null},"y":{"field":"y","type":"quantitative","title":null}}},
  {"transform":[{"filter":"isValid(datum.t)"}],"mark":{"type":"text","align":"left","baseline":"top","dy":-6,"fontSize":11,"lineBreak":"\n","lineHeight":15},"encoding":{"x":{"datum":0.025},"y":{"field":"top","type":"quantitative","title":null},"text":{"field":"t"}}}
 ]}},
{"transform":[{"filter":"datum.m==2"}],
 "facet":{"row":{"field":"m","type":"nominal","title":null,"header":{"labelExpr":"'Max. Corr. (ACE)'"}},"column":{"field":"c","type":"nominal","title":null,"header":{"labels":false}}},
 "spacing":{"column":23},"resolve":{"scale":{"y":"independent"}},
 "spec":{"width":177,"height":145,"layer":[
  {"transform":[{"filter":"isArray(datum.lo)"},{"flatten":["x","lo","hi"]}],"mark":{"type":"area","stroke":"black","strokeWidth":0.6,"strokeOpacity":0.85,"fillOpacity":0.35},
   "encoding":{"x":{"field":"x","type":"quantitative","title":null,"scale":{"domain":[0,1],"nice":false},"axis":{"values":[0,0.5,1],"labels":false}},"y":{"field":"lo","type":"quantitative","title":null,"stack":null,"scale":{"nice":false},"axis":{"tickCount":2,"format":"~g"}},"y2":{"field":"hi"},"color":{"field":"name","type":"nominal","scale":{"domain":["Cosine, High Freq","Cosine, Non-Fourier Freq [Low]","Cosine, Varying Freq [Medium]","Cubic","Cubic, Y-Stretched","Exponential [10ˣ]","Exponential [2ˣ]","L-Shaped","Line","Linear+Periodic, High Freq","Linear+Periodic, High Freq 2","Linear+Periodic, Low Freq","Linear+Periodic, Medium Freq","Lopsided L-Shaped","Parabola","Sigmoid","Sine, High Freq","Sine, Low Freq","Sine, Non-Fourier Freq [Low]","Sine, Varying Freq [Medium]","Spike"]},"legend":null}}},
  {"transform":[{"filter":"isValid(datum.a)"}],"mark":{"type":"rule","color":"#ff0000","strokeWidth":3},"encoding":{"x":{"field":"a","type":"quantitative","title":null},"x2":{"field":"b"},"y":{"field":"y","type":"quantitative","title":null}}},
  {"transform":[{"filter":"isValid(datum.a)"}],"mark":{"type":"tick","color":"#ff0000","orient":"vertical","size":7,"thickness":2},"encoding":{"x":{"field":"a","type":"quantitative","title":null},"y":{"field":"y","type":"quantitative","title":null}}},
  {"transform":[{"filter":"isValid(datum.a)"}],"mark":{"type":"tick","color":"#ff0000","orient":"vertical","size":7,"thickness":2},"encoding":{"x":{"field":"b","type":"quantitative","title":null},"y":{"field":"y","type":"quantitative","title":null}}},
  {"transform":[{"filter":"isValid(datum.t)"}],"mark":{"type":"text","align":"left","baseline":"top","dy":-6,"fontSize":11,"lineBreak":"\n","lineHeight":15},"encoding":{"x":{"datum":0.025},"y":{"field":"top","type":"quantitative","title":null},"text":{"field":"t"}}}
 ]}},
{"transform":[{"filter":"datum.m==3"}],
 "facet":{"row":{"field":"m","type":"nominal","title":null,"header":{"labelExpr":"'HSIC'"}},"column":{"field":"c","type":"nominal","title":null,"header":{"labels":false}}},
 "spacing":{"column":23},"resolve":{"scale":{"y":"independent"}},
 "spec":{"width":177,"height":145,"layer":[
  {"transform":[{"filter":"isArray(datum.lo)"},{"flatten":["x","lo","hi"]}],"mark":{"type":"area","stroke":"black","strokeWidth":0.6,"strokeOpacity":0.85,"fillOpacity":0.35},
   "encoding":{"x":{"field":"x","type":"quantitative","title":null,"scale":{"domain":[0,1],"nice":false},"axis":{"values":[0,0.5,1],"labels":false}},"y":{"field":"lo","type":"quantitative","title":null,"stack":null,"scale":{"nice":false},"axis":{"tickCount":3}},"y2":{"field":"hi"},"color":{"field":"name","type":"nominal","scale":{"domain":["Cosine, High Freq","Cosine, Non-Fourier Freq [Low]","Cosine, Varying Freq [Medium]","Cubic","Cubic, Y-Stretched","Exponential [10ˣ]","Exponential [2ˣ]","L-Shaped","Line","Linear+Periodic, High Freq","Linear+Periodic, High Freq 2","Linear+Periodic, Low Freq","Linear+Periodic, Medium Freq","Lopsided L-Shaped","Parabola","Sigmoid","Sine, High Freq","Sine, Low Freq","Sine, Non-Fourier Freq [Low]","Sine, Varying Freq [Medium]","Spike"]},"legend":null}}},
  {"transform":[{"filter":"isValid(datum.a)"}],"mark":{"type":"rule","color":"#ff0000","strokeWidth":3},"encoding":{"x":{"field":"a","type":"quantitative","title":null},"x2":{"field":"b"},"y":{"field":"y","type":"quantitative","title":null}}},
  {"transform":[{"filter":"isValid(datum.a)"}],"mark":{"type":"tick","color":"#ff0000","orient":"vertical","size":7,"thickness":2},"encoding":{"x":{"field":"a","type":"quantitative","title":null},"y":{"field":"y","type":"quantitative","title":null}}},
  {"transform":[{"filter":"isValid(datum.a)"}],"mark":{"type":"tick","color":"#ff0000","orient":"vertical","size":7,"thickness":2},"encoding":{"x":{"field":"b","type":"quantitative","title":null},"y":{"field":"y","type":"quantitative","title":null}}},
  {"transform":[{"filter":"isValid(datum.t)"}],"mark":{"type":"text","align":"left","baseline":"top","dy":-6,"fontSize":11,"lineBreak":"\n","lineHeight":15},"encoding":{"x":{"datum":0.025},"y":{"field":"top","type":"quantitative","title":null},"text":{"field":"t"}}}
 ]}},
{"transform":[{"filter":"datum.m==4"}],
 "facet":{"row":{"field":"m","type":"nominal","title":null,"header":{"labelExpr":"'I [L²] (Kraskov)'"}},"column":{"field":"c","type":"nominal","title":null,"header":{"labels":false}}},
 "spacing":{"column":23},"resolve":{"scale":{"y":"independent"}},
 "spec":{"width":177,"height":145,"layer":[
  {"transform":[{"filter":"isArray(datum.lo)"},{"flatten":["x","lo","hi"]}],"mark":{"type":"area","stroke":"black","strokeWidth":0.6,"strokeOpacity":0.85,"fillOpacity":0.35},
   "encoding":{"x":{"field":"x","type":"quantitative","title":null,"scale":{"domain":[0,1],"nice":false},"axis":{"values":[0,0.5,1],"labels":false}},"y":{"field":"lo","type":"quantitative","title":null,"stack":null,"scale":{"nice":false},"axis":{"tickCount":2,"format":"~g"}},"y2":{"field":"hi"},"color":{"field":"name","type":"nominal","scale":{"domain":["Cosine, High Freq","Cosine, Non-Fourier Freq [Low]","Cosine, Varying Freq [Medium]","Cubic","Cubic, Y-Stretched","Exponential [10ˣ]","Exponential [2ˣ]","L-Shaped","Line","Linear+Periodic, High Freq","Linear+Periodic, High Freq 2","Linear+Periodic, Low Freq","Linear+Periodic, Medium Freq","Lopsided L-Shaped","Parabola","Sigmoid","Sine, High Freq","Sine, Low Freq","Sine, Non-Fourier Freq [Low]","Sine, Varying Freq [Medium]","Spike"]},"legend":null}}},
  {"transform":[{"filter":"isValid(datum.a)"}],"mark":{"type":"rule","color":"#ff0000","strokeWidth":3},"encoding":{"x":{"field":"a","type":"quantitative","title":null},"x2":{"field":"b"},"y":{"field":"y","type":"quantitative","title":null}}},
  {"transform":[{"filter":"isValid(datum.a)"}],"mark":{"type":"tick","color":"#ff0000","orient":"vertical","size":7,"thickness":2},"encoding":{"x":{"field":"a","type":"quantitative","title":null},"y":{"field":"y","type":"quantitative","title":null}}},
  {"transform":[{"filter":"isValid(datum.a)"}],"mark":{"type":"tick","color":"#ff0000","orient":"vertical","size":7,"thickness":2},"encoding":{"x":{"field":"b","type":"quantitative","title":null},"y":{"field":"y","type":"quantitative","title":null}}},
  {"transform":[{"filter":"isValid(datum.t)"}],"mark":{"type":"text","align":"left","baseline":"top","dy":-6,"fontSize":11,"lineBreak":"\n","lineHeight":15},"encoding":{"x":{"datum":0.025},"y":{"field":"top","type":"quantitative","title":null},"text":{"field":"t"}}}
 ]}},
{"transform":[{"filter":"datum.m==5"}],
 "facet":{"row":{"field":"m","type":"nominal","title":null,"header":{"labelExpr":"'RDC'"}},"column":{"field":"c","type":"nominal","title":null,"header":{"labels":false}}},
 "spacing":{"column":23},"resolve":{"scale":{"y":"independent"}},
 "spec":{"width":177,"height":145,"layer":[
  {"transform":[{"filter":"isArray(datum.lo)"},{"flatten":["x","lo","hi"]}],"mark":{"type":"area","stroke":"black","strokeWidth":0.6,"strokeOpacity":0.85,"fillOpacity":0.35},
   "encoding":{"x":{"field":"x","type":"quantitative","title":null,"scale":{"domain":[0,1],"nice":false},"axis":{"values":[0,0.5,1],"labels":false}},"y":{"field":"lo","type":"quantitative","title":null,"stack":null,"scale":{"nice":false},"axis":{"tickCount":2,"format":"~g"}},"y2":{"field":"hi"},"color":{"field":"name","type":"nominal","scale":{"domain":["Cosine, High Freq","Cosine, Non-Fourier Freq [Low]","Cosine, Varying Freq [Medium]","Cubic","Cubic, Y-Stretched","Exponential [10ˣ]","Exponential [2ˣ]","L-Shaped","Line","Linear+Periodic, High Freq","Linear+Periodic, High Freq 2","Linear+Periodic, Low Freq","Linear+Periodic, Medium Freq","Lopsided L-Shaped","Parabola","Sigmoid","Sine, High Freq","Sine, Low Freq","Sine, Non-Fourier Freq [Low]","Sine, Varying Freq [Medium]","Spike"]},"legend":null}}},
  {"transform":[{"filter":"isValid(datum.a)"}],"mark":{"type":"rule","color":"#ff0000","strokeWidth":3},"encoding":{"x":{"field":"a","type":"quantitative","title":null},"x2":{"field":"b"},"y":{"field":"y","type":"quantitative","title":null}}},
  {"transform":[{"filter":"isValid(datum.a)"}],"mark":{"type":"tick","color":"#ff0000","orient":"vertical","size":7,"thickness":2},"encoding":{"x":{"field":"a","type":"quantitative","title":null},"y":{"field":"y","type":"quantitative","title":null}}},
  {"transform":[{"filter":"isValid(datum.a)"}],"mark":{"type":"tick","color":"#ff0000","orient":"vertical","size":7,"thickness":2},"encoding":{"x":{"field":"b","type":"quantitative","title":null},"y":{"field":"y","type":"quantitative","title":null}}},
  {"transform":[{"filter":"isValid(datum.t)"}],"mark":{"type":"text","align":"left","baseline":"top","dy":-6,"fontSize":11,"lineBreak":"\n","lineHeight":15},"encoding":{"x":{"datum":0.025},"y":{"field":"top","type":"quantitative","title":null},"text":{"field":"t"}}}
 ]}},
{"transform":[{"filter":"datum.m==6"}],
 "facet":{"row":{"field":"m","type":"nominal","title":null,"header":{"labelExpr":"'Sᴰᴰᴾ'"}},"column":{"field":"c","type":"nominal","title":"R² [f(x),y]","header":{"labels":false,"titleOrient":"bottom","titleFontSize":18,"titleFontWeight":"bold","titleColor":"black","titlePadding":14}}},
 "spacing":{"column":23},"resolve":{"scale":{"y":"independent"}},
 "spec":{"width":177,"height":145,"layer":[
  {"transform":[{"filter":"isArray(datum.lo)"},{"flatten":["x","lo","hi"]}],"mark":{"type":"area","stroke":"black","strokeWidth":0.6,"strokeOpacity":0.85,"fillOpacity":0.35},
   "encoding":{"x":{"field":"x","type":"quantitative","title":null,"scale":{"domain":[0,1],"nice":false},"axis":{"values":[0,0.5,1],"labels":true,"format":"~g"}},"y":{"field":"lo","type":"quantitative","title":null,"stack":null,"scale":{"nice":false},"axis":{"tickCount":5,"format":"~g"}},"y2":{"field":"hi"},"color":{"field":"name","type":"nominal","scale":{"domain":["Cosine, High Freq","Cosine, Non-Fourier Freq [Low]","Cosine, Varying Freq [Medium]","Cubic","Cubic, Y-Stretched","Exponential [10ˣ]","Exponential [2ˣ]","L-Shaped","Line","Linear+Periodic, High Freq","Linear+Periodic, High Freq 2","Linear+Periodic, Low Freq","Linear+Periodic, Medium Freq","Lopsided L-Shaped","Parabola","Sigmoid","Sine, High Freq","Sine, Low Freq","Sine, Non-Fourier Freq [Low]","Sine, Varying Freq [Medium]","Spike"]},"legend":null}}},
  {"transform":[{"filter":"isValid(datum.a)"}],"mark":{"type":"rule","color":"#ff0000","strokeWidth":3},"encoding":{"x":{"field":"a","type":"quantitative","title":null},"x2":{"field":"b"},"y":{"field":"y","type":"quantitative","title":null}}},
  {"transform":[{"filter":"isValid(datum.a)"}],"mark":{"type":"tick","color":"#ff0000","orient":"vertical","size":7,"thickness":2},"encoding":{"x":{"field":"a","type":"quantitative","title":null},"y":{"field":"y","type":"quantitative","title":null}}},
  {"transform":[{"filter":"isValid(datum.a)"}],"mark":{"type":"tick","color":"#ff0000","orient":"vertical","size":7,"thickness":2},"encoding":{"x":{"field":"b","type":"quantitative","title":null},"y":{"field":"y","type":"quantitative","title":null}}},
  {"transform":[{"filter":"isValid(datum.t)"}],"mark":{"type":"text","align":"left","baseline":"top","dy":-6,"fontSize":11,"lineBreak":"\n","lineHeight":15},"encoding":{"x":{"datum":0.025},"y":{"field":"top","type":"quantitative","title":null},"text":{"field":"t"}}}
 ]}}
],
"config":{
 "font":"Liberation Sans",
 "view":{"stroke":null},
 "axis":{"grid":false,"domainColor":"#808080","tickColor":"#808080","tickSize":-3,"labelFontSize":13,"labelColor":"black","labelPadding":7,"labelFlush":false},
 "axisX":{"labelPadding":3},
 "axisY":{"minExtent":32,"maxExtent":32},
 "header":{"labelFontSize":20,"labelFontWeight":"bold","labelColor":"black","labelPadding":28},
 "headerRow":{"labelFontSize":19,"labelColor":"#1b3f7a","labelFont":"Liberation Sans Narrow, Liberation Sans","labelPadding":28},
 "range":{"category":["#4848cd","#4848ee","#4869ee","#4884ee","#489eee","#48b2ee","#48cdee","#48ffff","#48eec6","#69eea5","#8aee91","#a5ee76","#cdff62","#ffff48","#ffde58","#ffbc58","#ffa562","#ff8a58","#ff6958","#ff4848","#cd4858"]}
}
}
